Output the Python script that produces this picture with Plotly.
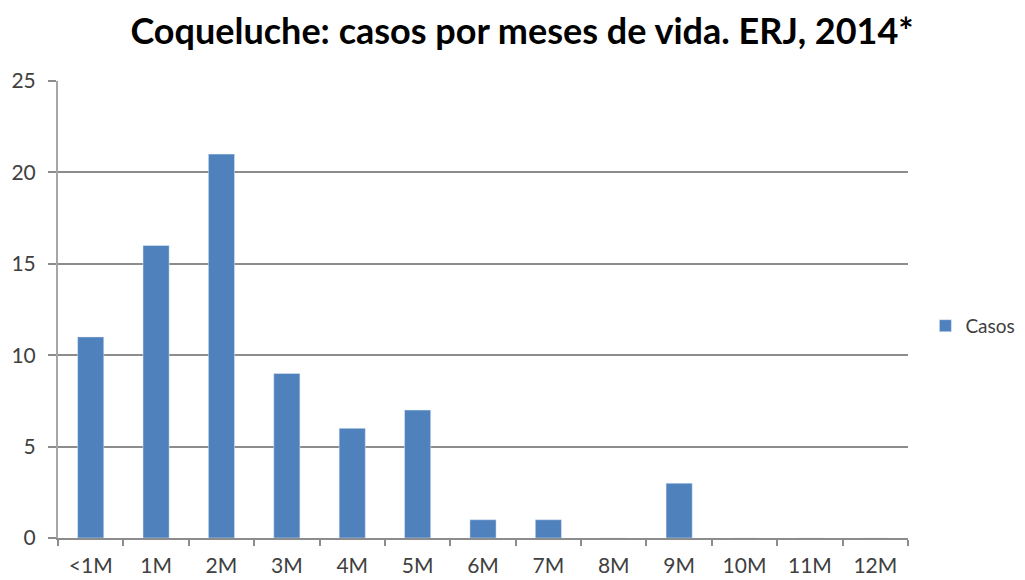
import plotly.graph_objects as go

meses = ["<1M", "1M", "2M", "3M", "4M", "5M", "6M", "7M", "8M", "9M", "10M", "11M", "12M"]
casos = [11, 16, 21, 9, 6, 7, 1, 1, 0, 3, 0, 0, 0]
y_ticks = [0, 5, 10, 15, 20, 25]

fig = go.Figure()
fig.add_trace(go.Bar(x=meses, y=casos, name="Casos", marker_color="#4F81BD"))

# the page adds an 8px body margin, so margins are shifted to compensate
fig.update_layout(
    width=1025, height=580,
    title=dict(text="<b>Coqueluche: casos por meses de vida. ERJ, 2014*</b>",
               x=0.5015, xanchor="center", y=0.96, yanchor="middle",
               font=dict(family="Lato", size=36, color="#000000")),
    margin=dict(l=50, r=125, t=73, b=50, autoexpand=False),
    plot_bgcolor="white", paper_bgcolor="white",
    bargap=0.6,
    showlegend=True,
    legend=dict(xref="container", yref="container", x=0.895, y=0.452,
                xanchor="left", yanchor="middle",
                font=dict(family="Lato", size=19, color="#404040")),
    font=dict(family="Lato", size=21, color="#404040"),
)
fig.update_xaxes(showline=True, linecolor="#8c8c8c", linewidth=2,
                 ticks="outside", tickson="boundaries", tickcolor="#8c8c8c",
                 ticklen=6, tickwidth=2, ticklabelstandoff=8)
fig.update_yaxes(range=[0, 25], tickvals=y_ticks, showgrid=True, gridcolor="#8c8c8c",
                 gridwidth=1.5, showline=True, linecolor="#a6a6a6", linewidth=2,
                 zeroline=False, ticks="outside", tickcolor="#8c8c8c", ticklen=8,
                 tickwidth=1.5, ticklabelstandoff=8)

fig.write_html("out.html")
